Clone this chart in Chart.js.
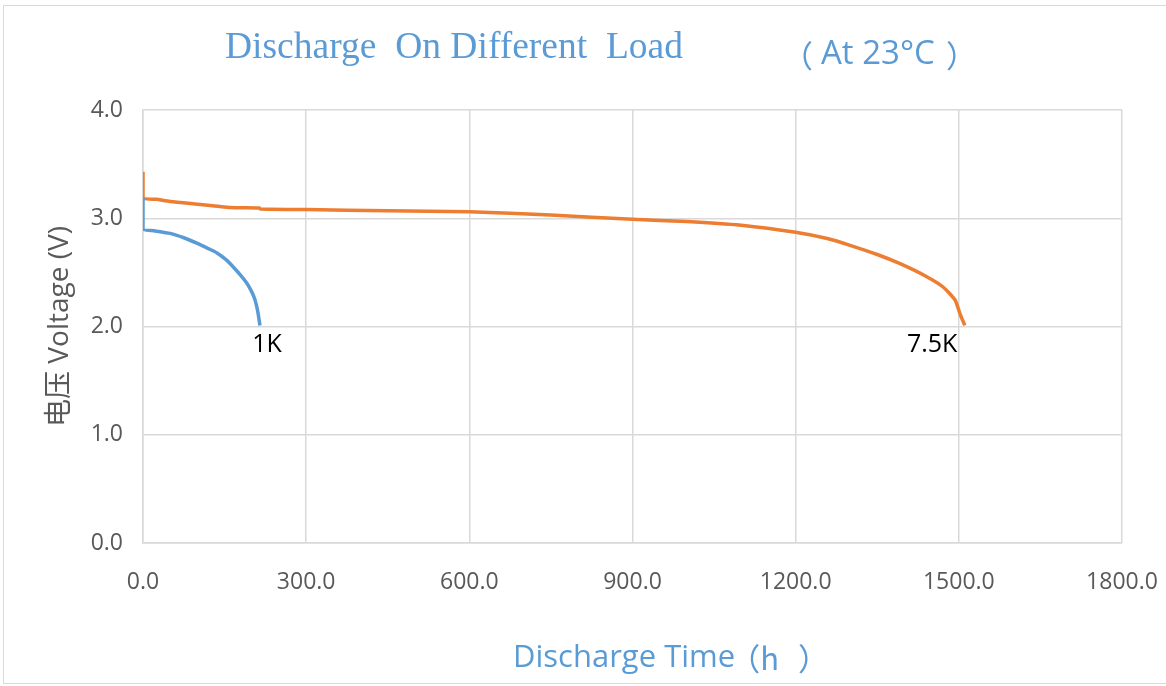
<!DOCTYPE html>
<html lang="en">
<head>
<meta charset="UTF-8">
<title>Discharge On Different Load</title>
<script src="https://cdn.jsdelivr.net/npm/chart.js@4"></script>
<style>
  html, body { margin: 0; padding: 0; background: #fff; }
  #wrap { width: 1166px; height: 686px; position: relative; }
</style>
</head>
<body>
<div id="wrap"><canvas id="chart" width="1166" height="686"></canvas></div>
<script>
// 1K load curve
var time1K = [0, 0, 20, 50, 75, 99, 120, 136, 152, 166, 180, 191, 200, 206, 211, 215];
var volt1K = [3.19, 2.90, 2.885, 2.86, 2.82, 2.77, 2.72, 2.68, 2.62, 2.55, 2.47, 2.40, 2.32, 2.245, 2.14, 2.01];
// 7.5K load curve
var time75K = [0, 0, 25, 50, 100, 160, 214, 216, 300, 450, 600, 750, 900, 1000, 1100, 1200, 1260, 1300, 1350, 1392, 1441, 1471, 1493, 1502, 1511];
var volt75K = [3.43, 3.19, 3.175, 3.155, 3.13, 3.10, 3.095, 3.085, 3.08, 3.07, 3.06, 3.03, 2.99, 2.97, 2.935, 2.87, 2.81, 2.75, 2.665, 2.58, 2.46, 2.365, 2.245, 2.12, 2.01];
var xTicks = [0, 300, 600, 900, 1200, 1500, 1800];
var yTicks = [0, 1, 2, 3, 4];
var curveLabels = [
  { text: '1K', x: 228, y: 1.83 },
  { text: '7.5K', x: 1451, y: 1.83 }
];

function toPoints(xs, ys) {
  var pts = [];
  for (var i = 0; i < xs.length; i++) pts.push({ x: xs[i], y: ys[i] });
  return pts;
}

var decor = {
  id: 'decor',
  beforeDraw: function (chart) {
    var ctx = chart.ctx;
    ctx.save();
    ctx.strokeStyle = '#d9d9d9';
    ctx.lineWidth = 1;
    ctx.strokeRect(3.5, 5.5, 1170, 678);
    ctx.restore();
  },
  afterDraw: function (chart) {
    var ctx = chart.ctx;
    var xs = chart.scales.x, ys = chart.scales.y;
    ctx.save();
    // title, serif part squeezed like the original
    ctx.fillStyle = '#5b9bd5';
    ctx.textBaseline = 'middle';
    ctx.font = '37px "Liberation Serif", serif';
    var t = 'Discharge  On Different  Load';
    var w = ctx.measureText(t).width;
    ctx.save();
    ctx.translate(225, 48);
    ctx.scale(458 / w, 1);
    ctx.fillText(t, 0, 0);
    ctx.restore();
    ctx.font = '31px "Noto Sans CJK SC", sans-serif';
    ctx.fillText('（', 782, 55);
    ctx.fillText('）', 946, 55);
    ctx.font = '33px "Open Sans", sans-serif';
    ctx.fillText('At 23°C', 821, 55);
    // x axis title
    ctx.font = '31px "Open Sans", sans-serif';
    ctx.fillText('Discharge Time', 513, 658);
    var tw = ctx.measureText('Discharge Time').width;
    ctx.font = '31px "Noto Sans CJK SC", sans-serif';
    ctx.fillText('（h', 507 + tw, 658);
    ctx.fillText('）', 798, 658);
    // curve labels
    ctx.fillStyle = '#000';
    ctx.font = '25px "Open Sans", sans-serif';
    ctx.textAlign = 'center';
    curveLabels.forEach(function (l) {
      ctx.fillText(l.text, xs.getPixelForValue(l.x), ys.getPixelForValue(l.y));
    });
    ctx.restore();
  }
};

new Chart(document.getElementById('chart'), {
  type: 'scatter',
  data: {
    datasets: [{
      label: '1K',
      data: toPoints(time1K, volt1K),
      showLine: true,
      borderColor: '#5b9bd5',
      borderWidth: 3.5,
      pointRadius: 0,
      tension: 0.2
    }, {
      label: '7.5K',
      data: toPoints(time75K, volt75K),
      showLine: true,
      borderColor: '#ed7d31',
      borderWidth: 3.5,
      pointRadius: 0,
      tension: 0.2
    }]
  },
  options: {
    responsive: false,
    animation: false,
    layout: { padding: { top: 110, right: 44, left: 0, bottom: 0 } },
    plugins: { legend: { display: false }, tooltip: { enabled: false }, title: { display: false } },
    scales: {
      x: {
        type: 'linear',
        min: 0, max: 1800,
        afterBuildTicks: function (s) { s.ticks = xTicks.map(function (v) { return { value: v }; }); },
        afterFit: function (s) { s.height = 686 - 543; s.paddingRight = 0; s.paddingLeft = 0; },
        grid: { color: '#d9d9d9', lineWidth: 1.5, drawTicks: false },
        border: { color: '#d9d9d9', width: 1.5 },
        ticks: {
          padding: 26,
          color: '#595959',
          font: { family: 'Open Sans', size: 23 },
          maxRotation: 0,
          callback: function (v) { return v.toFixed(1); }
        }
      },
      y: {
        min: 0, max: 4,
        afterBuildTicks: function (s) { s.ticks = yTicks.map(function (v) { return { value: v }; }); },
        afterFit: function (s) { s.width = 143; s.paddingTop = 0; s.paddingBottom = 0; },
        grid: { color: '#d9d9d9', lineWidth: 1.5, drawTicks: false },
        border: { color: '#d9d9d9', width: 1.5 },
        ticks: {
          padding: 20,
          color: '#595959',
          font: { family: 'Open Sans', size: 23 },
          callback: function (v) { return v.toFixed(1); }
        },
        title: {
          display: true,
          text: '电压 Voltage (V)',
          color: '#595959',
          font: { family: '"Open Sans", "Noto Sans CJK SC"', size: 28 },
          padding: { top: 43, bottom: 0 }
        }
      }
    }
  },
  plugins: [decor]
});
</script>
</body>
</html>
